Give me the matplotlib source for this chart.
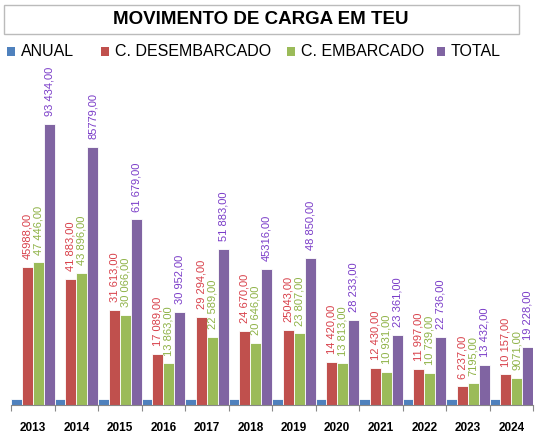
import matplotlib.pyplot as plt
import numpy as np
from matplotlib.patches import Rectangle

plt.rcParams['font.family'] = ['Liberation Sans', 'DejaVu Sans']

# Data
years = ["2013", "2014", "2015", "2016", "2017", "2018",
         "2019", "2020", "2021", "2022", "2023", "2024"]
anual = [2013, 2014, 2015, 2016, 2017, 2018, 2019, 2020, 2021, 2022, 2023, 2024]
desembarcado = [45988, 41883, 31613, 17089, 29294, 24670,
                25043, 14420, 12430, 11997, 6237, 10157]
embarcado = [47446, 43896, 30066, 13863, 22589, 20646,
             23807, 13813, 10931, 10739, 7195, 9071]
total = [93434, 85779, 61679, 30952, 51883, 45316,
         48850, 28233, 23361, 22736, 13432, 19228]

# labels as printed on the chart
lab_desemb = ["45988,00", "41 883,00", "31 613,00", "17 089,00", "29 294,00", "24 670,00",
              "25043,00", "14 420,00", "12 430,00", "11 997,00", "6 237,00", "10 157,00"]
lab_emb = ["47 446,00", "43 896,00", "30 066,00", "13 863,00", "22 589,00", "20 646,00",
           "23 807,00", "13 813,00", "10 931,00", "10 739,00", "7195,00", "9071,00"]
lab_total = ["93 434,00", "85779,00", "61 679,00", "30 952,00", "51 883,00", "45316,00",
             "48 850,00", "28 233,00", "23 361,00", "22 736,00", "13 432,00", "19 228,00"]

series_names = ["ANUAL", "C. DESEMBARCADO", "C. EMBARCADO", "TOTAL"]
colors = ["#4F81BD", "#C0504D", "#9BBB59", "#8064A2"]
label_colors = [None, "#D8404A", "#8EB246", "#7A3CC8"]

W, H = 548, 442
fig = plt.figure(figsize=(W / 100, H / 100), dpi=100)

ax = fig.add_axes([11 / W, 37 / H, (533 - 11) / W, 331 / H])
x = np.arange(len(years))
w = 0.25
offsets = [-1.5 * w, -0.5 * w, 0.5 * w, 1.5 * w]
values = [anual, desembarcado, embarcado, total]
labels = [None, lab_desemb, lab_emb, lab_total]

for vals, off, col, labs, lcol in zip(values, offsets, colors, labels, label_colors):
    ax.bar(x + off, vals, width=w, color=col, edgecolor="white", linewidth=0.6)
    if labs is None:
        continue
    for xi, v, t in zip(x, vals, labs):
        ax.annotate(t, (xi + off, v), xytext=(0, 5.5), textcoords="offset points",
                    rotation=90, ha="center", va="bottom", fontsize=8, color=lcol)

ax.set_xlim(-0.5, len(years) - 0.5)
ax.set_ylim(0, 110000)
for s in ["top", "left", "right"]:
    ax.spines[s].set_visible(False)
ax.spines["bottom"].set_color("#888888")
ax.set_yticks([])
ax.set_xticks(np.arange(len(years) + 1) - 0.5, minor=False)
ax.set_xticklabels([])
ax.tick_params(axis="x", which="major", length=4, color="#888888")
ax.set_xticks(x, minor=True)
ax.set_xticklabels(years, minor=True, fontsize=8.5, fontweight="bold")
ax.tick_params(axis="x", which="minor", length=0, pad=12)

# title box
fig.add_artist(Rectangle((4 / W, 1 - 34 / H), (519 - 4) / W, 29 / H,
                         transform=fig.transFigure, facecolor="white",
                         edgecolor="#BBBBBB", linewidth=1))
fig.text(261 / W, 1 - 20 / H, "MOVIMENTO DE CARGA EM TEU", ha="center", va="center",
         fontsize=13.5, fontweight="heavy")

# legend
leg_x = [7, 101, 287, 437]
for lx, name, col in zip(leg_x, series_names, colors):
    fig.add_artist(Rectangle((lx / W, 1 - 56 / H), 8 / W, 9 / H,
                             transform=fig.transFigure, facecolor=col, edgecolor="none"))
    fig.text((lx + 14) / W, 1 - 51 / H, name, ha="left", va="center", fontsize=11.5)

fig.savefig("out.png", dpi=100)
